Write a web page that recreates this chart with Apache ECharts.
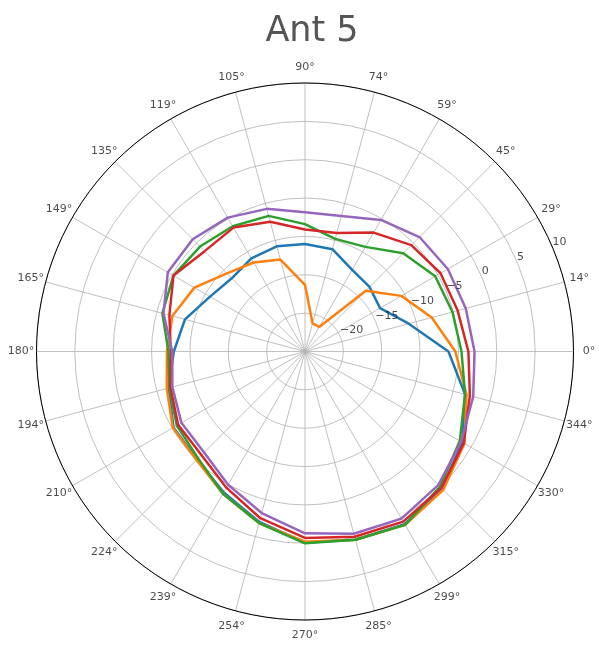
<!DOCTYPE html>
<html>
<head>
<meta charset="utf-8">
<script src="https://cdn.jsdelivr.net/npm/echarts@6/dist/echarts.min.js"></script>
<style>
  html, body { margin: 0; padding: 0; background: #fff; }
  #chart { width: 599px; height: 646px; }
</style>
</head>
<body>
<div id="chart"></div>
<script>
// ---- data ----
const angles = [0, 15, 30, 45, 60, 75, 90, 105, 120, 135, 150, 165,
                180, 195, 210, 225, 240, 255, 270, 285, 300, 315, 330, 345];
const angleLabels = ["0°", "14°", "29°", "45°", "59°", "74°", "90°", "105°", "119°", "135°", "149°", "165°",
                     "180°", "194°", "210°", "224°", "239°", "254°", "270°", "285°", "299°", "315°", "330°", "344°"];
const radialTicks = [-20, -15, -10, -5, 0, 5, 10];
const radialLabels = ["\u221220", "\u221215", "\u221210", "\u22125", "0", "5", "10"];

const seriesBlue   = [-6.3, -11.0, -13.7, -13.1, -12.7, -11.2, -11.0, -10.8, -11.0, -11.5, -10.7, -8.8,
                      -7.9, -6.6, -5.2, -5.1, -3.8, -2.0, -0.1, 0.4, 1.0, 0.2, -1.3, -3.4];
const seriesOrange = [-5.4, -7.9, -10.5, -13.8, -21.3, -21.2, -16.3, -12.6, -11.6, -10.6, -8.35, -7.1,
                      -7.0, -6.35, -5.1, -5.0, -3.6, -1.85, -0.2, 0.4, 1.1, 0.5, -1.0, -3.2];
const seriesGreen  = [-4.6, -5.1, -5.4, -6.9, -9.25, -9.8, -8.4, -6.7, -6.15, -5.65, -5.2, -5.75,
                      -7.2, -6.7, -5.7, -5.3, -3.6, -1.85, 0.0, 0.4, 1.1, -0.1, -1.7, -3.4];
const seriesRed    = [-3.7, -4.4, -4.6, -5.4, -7.1, -9.0, -9.1, -7.5, -6.35, -6.5, -5.2, -6.7,
                      -7.5, -6.85, -5.9, -5.9, -4.5, -2.5, -0.7, 0.0, 0.6, 0.15, -1.1, -2.75];
const seriesPurple = [-2.9, -3.3, -3.5, -3.9, -5.2, -6.7, -6.85, -5.75, -4.85, -4.3, -4.35, -5.9,
                      -7.7, -7.1, -6.4, -6.4, -4.95, -3.2, -1.3, -0.4, 0.15, -0.4, -1.5, -2.3];

// ---- build ----
const FONT = 'DejaVu Sans';
const colors = ['#1f77b4', '#ff7f0e', '#2ca02c', '#d62728', '#9467bd'];
const allSeries = [seriesBlue, seriesOrange, seriesGreen, seriesRed, seriesPurple];

function closedData(vals) {
  const d = angles.map((a, i) => [vals[i], a]);
  d.push([vals[0], 360]);
  return d;
}

const lineSeries = allSeries.map((vals, k) => ({
  type: 'line',
  coordinateSystem: 'polar',
  data: closedData(vals),
  symbol: 'none',
  smooth: false,
  lineStyle: { color: colors[k], width: 2.5 },
  z: 3 + k,
  silent: true
}));

const LABEL_OFF = 15.5;
const angleLabelSeries = {
  type: 'scatter',
  coordinateSystem: 'polar',
  symbolSize: 0,
  itemStyle: { color: 'transparent' },
  silent: true,
  z: 20,
  data: angles.map((a, i) => {
    const rad = a * Math.PI / 180;
    return {
      value: [10, a],
      label: {
        show: true,
        formatter: angleLabels[i],
        position: [LABEL_OFF * Math.cos(rad), -LABEL_OFF * Math.sin(rad)],
        align: 'center',
        verticalAlign: 'middle',
        fontFamily: FONT,
        fontSize: 11,
        color: '#1a1a1a'
      }
    };
  })
};

const radialLabelSeries = {
  type: 'scatter',
  coordinateSystem: 'polar',
  symbolSize: 0,
  itemStyle: { color: 'transparent' },
  silent: true,
  z: 20,
  data: radialTicks.map((v, i) => ({
    value: [v, 22.5],
    label: {
      show: true,
      formatter: radialLabels[i],
      position: [-0.5, -6.5],
      align: 'left',
      verticalAlign: 'middle',
      fontFamily: FONT,
      fontSize: 11,
      color: '#1a1a1a'
    }
  }))
};

const chart = echarts.init(document.getElementById('chart'), null, { renderer: 'canvas' });
chart.setOption({
  animation: false,
  backgroundColor: '#ffffff',
  textStyle: { fontFamily: FONT },
  title: {
    text: 'Ant 5',
    left: 307,
    textAlign: 'center',
    top: 9,
    textStyle: { fontFamily: FONT, fontSize: 35, fontWeight: 'normal', color: '#555555' }
  },
  polar: { center: [305, 351.5], radius: 268.5 },
  angleAxis: {
    type: 'value',
    min: 0, max: 360, interval: 15,
    startAngle: 0, clockwise: false,
    axisLine: { show: true, lineStyle: { color: '#000000', width: 1 } },
    axisTick: { show: false },
    axisLabel: { show: false },
    splitLine: { show: true, lineStyle: { color: '#b0b0b0', width: 0.8 } }
  },
  radiusAxis: {
    type: 'value',
    min: -25, max: 10, interval: 5,
    axisLine: { show: false },
    axisTick: { show: false },
    axisLabel: { show: false },
    splitLine: { show: true, lineStyle: { color: '#b0b0b0', width: 0.8 } }
  },
  series: lineSeries.concat([angleLabelSeries, radialLabelSeries])
});
</script>
</body>
</html>
